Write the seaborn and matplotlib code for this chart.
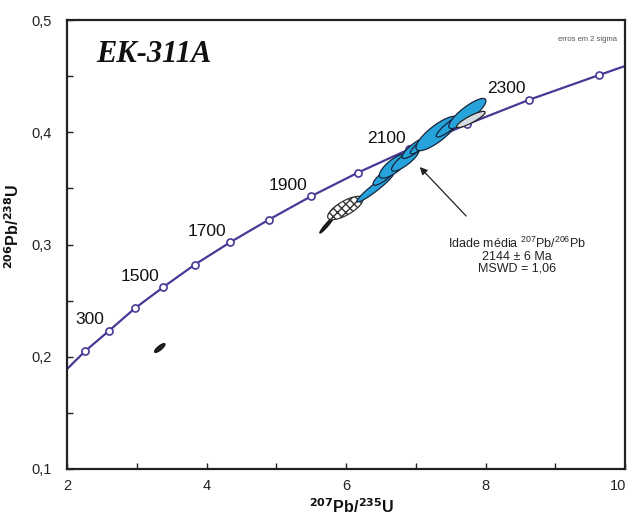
import numpy as np
import pandas as pd
import matplotlib
matplotlib.use("Agg")
import matplotlib.pyplot as plt
import matplotlib.transforms as mtransforms
import seaborn as sns

# marcas da concordia (Ma) e razoes
ages = [1200, 1300, 1400, 1500, 1600, 1700, 1800, 1900, 2000, 2100, 2200, 2300, 2400]
pb207_u235 = [2.26, 2.60, 2.97, 3.38, 3.83, 4.34, 4.89, 5.50, 6.17, 6.91, 7.73, 8.63, 9.63]
pb206_u238 = [0.205, 0.223, 0.243, 0.262, 0.282, 0.302, 0.322, 0.343, 0.364, 0.385, 0.407, 0.429, 0.451]
# onde a curva cruza a moldura
edge_x = [2.0, 10.0]
edge_y = [0.189, 0.459]

label_ages = [1300, 1500, 1700, 1900, 2100, 2300]
label_text = ["300", "1500", "1700", "1900", "2100", "2300"]

# elipses de erro (2 sigma): centro, erro em x, erro em y, rho
spot_x = [3.33, 5.72, 5.99, 6.42, 6.55, 6.69, 6.85, 6.99, 7.15, 7.305, 7.50, 7.74, 7.79]
spot_y = [0.2078, 0.317, 0.3325, 0.3508, 0.361, 0.370, 0.3753, 0.386, 0.392, 0.3989, 0.406, 0.4167, 0.4114]
spot_sx = [0.074, 0.095, 0.253, 0.262, 0.162, 0.211, 0.197, 0.185, 0.229, 0.302, 0.206, 0.266, 0.204]
spot_sy = [0.0039, 0.0068, 0.0104, 0.0129, 0.0082, 0.0109, 0.0100, 0.0093, 0.0113, 0.0153, 0.0103, 0.0134, 0.0072]
spot_rho = [0.82, 0.957, 0.734, 0.952, 0.842, 0.760, 0.833, 0.846, 0.919, 0.819, 0.902, 0.845, 0.877]
spot_group = ["descartada", "descartada", "discordante", "usada", "usada", "usada", "usada",
              "usada", "usada", "usada", "usada", "usada", "outra"]

sns.set_theme(style="white")
plt.rcParams["font.family"] = ["Liberation Sans", "DejaVu Sans"]
plt.rcParams["mathtext.default"] = "regular"

fig = plt.figure(figsize=(6.3, 5.19), dpi=100)
ax = fig.add_axes([67 / 630, 50 / 519, 558 / 630, 449 / 519])

purple = "#4a3896"
curve = pd.DataFrame({"x": [edge_x[0]] + pb207_u235 + [edge_x[1]],
                      "y": [edge_y[0]] + pb206_u238 + [edge_y[1]]})
sns.lineplot(data=curve, x="x", y="y", sort=False, estimator=None,
             color=purple, lw=1.6, ax=ax, zorder=2)
marks = pd.DataFrame({"age": ages, "x": pb207_u235, "y": pb206_u238})
sns.scatterplot(data=marks, x="x", y="y", s=26, color="white",
                edgecolor=purple, linewidth=1.2, ax=ax, zorder=3)

for age, txt in zip(label_ages, label_text):
    i = ages.index(age)
    ax.annotate(txt, (pb207_u235[i], pb206_u238[i]), xytext=(-3, 2.5),
                textcoords="offset points", ha="right", va="bottom",
                fontsize=12.5, color="#111", zorder=6)

# elipses
t = np.linspace(0, 2 * np.pi, 120)
styles = {
    "descartada": dict(facecolor="#222222", edgecolor="#111111", hatch=None),
    "discordante": dict(facecolor="white", edgecolor="#333333", hatch="xxxx"),
    "usada": dict(facecolor="#27a3dc", edgecolor="#16233a", hatch=None),
    "outra": dict(facecolor="#d5dde2", edgecolor="#222222", hatch=None),
}
for cx, cy, sx, sy, r, g in zip(spot_x, spot_y, spot_sx, spot_sy, spot_rho, spot_group):
    ex = cx + sx * np.cos(t)
    ey = cy + sy * (r * np.cos(t) + np.sqrt(1 - r ** 2) * np.sin(t))
    st = styles[g]
    ax.fill(ex, ey, facecolor=st["facecolor"], edgecolor=st["edgecolor"],
            hatch=st["hatch"], lw=0.9, zorder=4)

ax.annotate("", xy=(7.03, 0.3708), xytext=(7.75, 0.3236),
            arrowprops=dict(arrowstyle="-|>", color="#222222", lw=0.9,
                            mutation_scale=11), zorder=7)
ax.text(8.45, 0.2905, "Idade média $^{207}$Pb/$^{206}$Pb\n2144 ± 6 Ma\nMSWD = 1,06",
        ha="center", va="center", fontsize=9, linespacing=0.95, color="#222")

ax.text(0.053, 0.955, "EK-311A", transform=ax.transAxes, ha="left", va="top",
        fontsize=22, fontweight="bold", fontstyle="italic",
        family=["Liberation Serif", "DejaVu Serif"], color="#111")
ax.text(0.985, 0.965, "erros em 2 sigma", transform=ax.transAxes, ha="right",
        va="top", fontsize=5.5, color="#555")

ax.set_xlim(2, 10)
ax.set_ylim(0.1, 0.5)
ax.set_xticks([2, 4, 6, 8, 10])
ax.set_xticklabels(["2", "4", "6", "8", "10"])
ax.set_xticks([3, 5, 7, 9], minor=True)
ax.set_yticks([0.1, 0.2, 0.3, 0.4, 0.5])
ax.set_yticklabels(["0,1", "0,2", "0,3", "0,4", "0,5"])
ax.set_yticks([0.15, 0.25, 0.35, 0.45], minor=True)
ax.tick_params(which="both", direction="in", length=4, width=1, color="#222",
               bottom=True, left=True, top=False, right=False)
ax.tick_params(axis="x", labelsize=10.5, labelcolor="#222", pad=7)
ax.tick_params(axis="y", labelsize=10.5, labelcolor="#222", pad=11)
# o "10" encosta na borda direita
last = ax.get_xticklabels()[-1]
last.set_transform(last.get_transform() + mtransforms.ScaledTranslation(-5 / 72, 0, fig.dpi_scale_trans))
ax.set_xlabel("")
ax.set_ylabel("")
for s in ax.spines.values():
    s.set_color("#222")
    s.set_linewidth(1.6)

fig.text(352 / 630, 1 - 507 / 519, r"$^{\mathbf{207}}$Pb/$^{\mathbf{235}}$U",
         ha="center", va="center", fontsize=11.5, fontweight="bold", color="#111")
fig.text(13 / 630, 1 - 226 / 519, r"$^{\mathbf{206}}$Pb/$^{\mathbf{238}}$U",
         ha="center", va="center", rotation=90, fontsize=11.5, fontweight="bold",
         color="#111")

fig.savefig("out.png", dpi=100, facecolor="white")
